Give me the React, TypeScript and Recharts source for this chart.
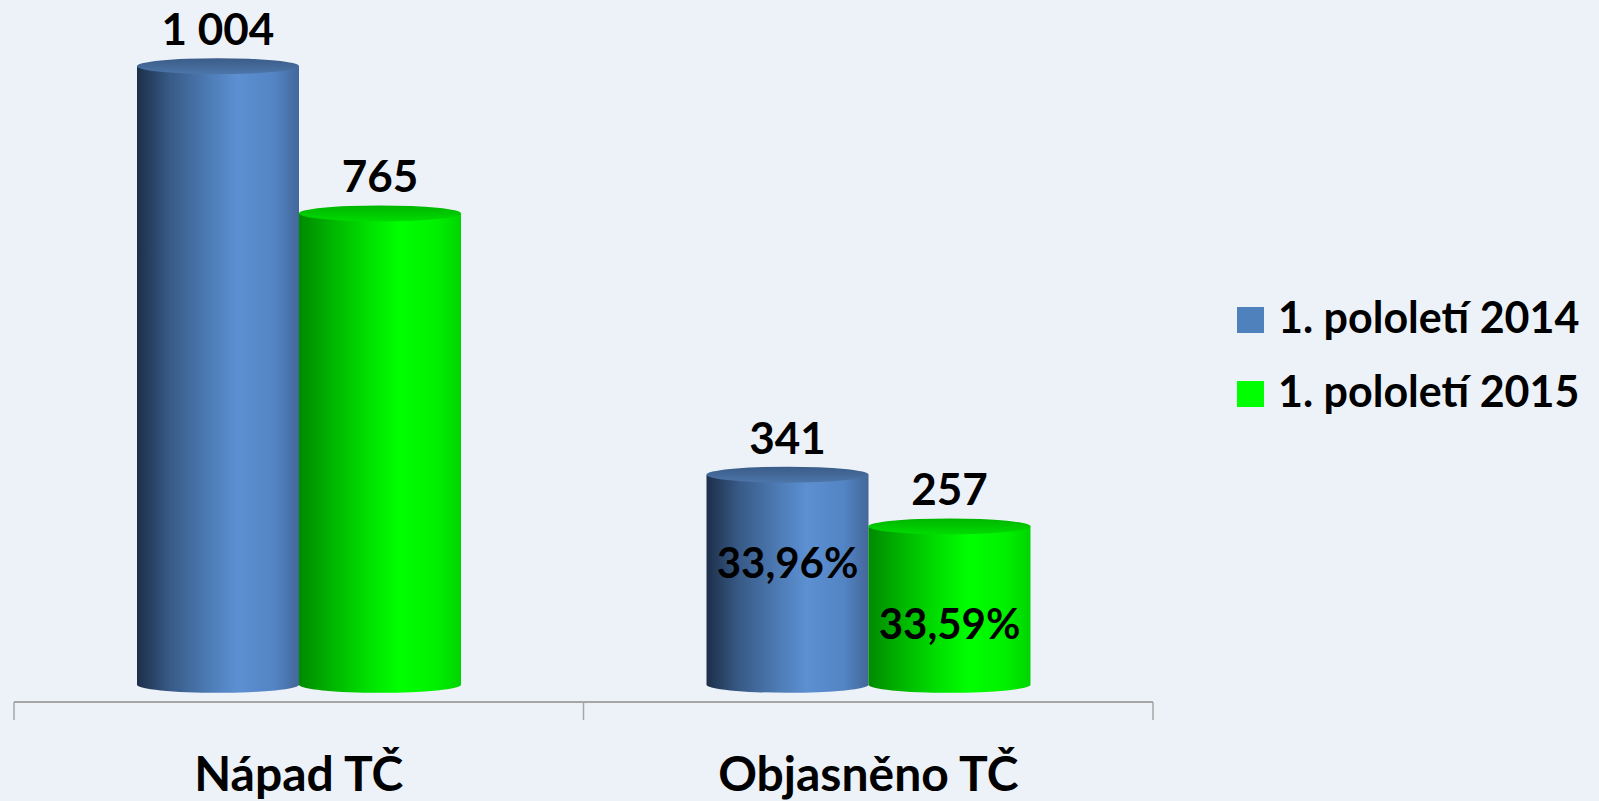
import React from "react";
import { Bar, BarChart, LabelList, Legend, XAxis, YAxis } from "recharts";

const categories = ["Nápad TČ", "Objasněno TČ"];
const values2014 = [1004, 341];
const values2015 = [765, 257];
const share2014 = [null, "33,96%"];
const share2015 = [null, "33,59%"];
const seriesNames = ["1. pololetí 2014", "1. pololetí 2015"];
const seriesColors = ["#4f81bd", "#00ff00"];
// category borders on the bottom axis, as a fraction of the plot width
const borderTicks = [0, 0.5, 1];

const data = categories.map((name, i) => ({
  name,
  h2014: values2014[i],
  h2015: values2015[i],
  p2014: share2014[i],
  p2015: share2015[i],
}));

const FONT = "Lato, 'Open Sans', sans-serif";

const palettes: Record<string, any> = {
  blue: {
    body: [
      ["0%", "#1d2f4a"],
      ["20%", "#375a86"],
      ["45%", "#4e7cb6"],
      ["62%", "#5c90d2"],
      ["85%", "#5384c4"],
      ["100%", "#43679a"],
    ],
    top: ["#3a5c88", "#4d76a9"],
  },
  green: {
    body: [
      ["0%", "#008a00"],
      ["22%", "#00b800"],
      ["45%", "#00e400"],
      ["62%", "#00ff00"],
      ["85%", "#00f000"],
      ["100%", "#00d400"],
    ],
    top: ["#00b400", "#00dc00"],
  },
};

const fmt = (v: number) => String(v).replace(/\B(?=(\d{3})+(?!\d))/g, " ");

function cylinder(key: string) {
  const pal = palettes[key];
  return (props: any) => {
    const { x, y, width, height, index } = props;
    if (!width || height == null) return null;
    const id = `cyl-${key}-${index}`;
    const rx = width / 2;
    const ry = 8;
    const bottom = y + height;
    return (
      <g>
        <defs>
          <linearGradient id={id} x1="0" y1="0" x2="1" y2="0">
            {pal.body.map(([o, c]: string[]) => (
              <stop key={o} offset={o} stopColor={c} />
            ))}
          </linearGradient>
          <linearGradient id={`${id}-top`} x1="0" y1="0" x2="0" y2="1">
            <stop offset="0%" stopColor={pal.top[0]} />
            <stop offset="100%" stopColor={pal.top[1]} />
          </linearGradient>
        </defs>
        <path
          d={`M${x},${y} L${x},${bottom} A${rx},${ry} 0 0 0 ${x + width},${bottom} L${x + width},${y} Z`}
          fill={`url(#${id})`}
        />
        <ellipse cx={x + rx} cy={y} rx={rx} ry={ry} fill={`url(#${id}-top)`} />
      </g>
    );
  };
}

function valueLabel(props: any) {
  const { x, y, width, value } = props;
  return (
    <text x={x + width / 2} y={y - 21} textAnchor="middle" fontFamily={FONT} fontSize={44} fontWeight={700} fill="#000">
      {fmt(value)}
    </text>
  );
}

function shareLabel(shift: number) {
  return (props: any) => {
    const { x, y, width, height, value } = props;
    if (!value) return null;
    return (
      <text
        x={x + width / 2}
        y={y + height / 2 + shift}
        textAnchor="middle"
        dominantBaseline="central"
        fontFamily={FONT}
        fontSize={42}
        fontWeight={700}
        fill="#000"
      >
        {value}
      </text>
    );
  };
}

function CategoryTick(props: any) {
  const { x, y, payload } = props;
  return (
    <text x={x} y={y + 69} textAnchor="middle" fontFamily={FONT} fontSize={48} fontWeight={700} fill="#000">
      {payload.value}
    </text>
  );
}

function LegendBox() {
  return (
    <svg width={362} height={130} overflow="visible">
      {seriesNames.map((n, i) => (
        <g key={n}>
          <rect x={0} y={11 + i * 74} width={27} height={26} fill={seriesColors[i]} />
          <text x={41} y={37 + i * 74} fontFamily={FONT} fontSize={43} fontWeight={700} fill="#000">
            {n}
          </text>
        </g>
      ))}
    </svg>
  );
}

export default function App() {
  return (
    <div style={{ position: "fixed", left: 0, top: 0, width: 1599, height: 801, background: "#edf2f8" }}>
      <BarChart
        width={1599}
        height={801}
        data={data}
        margin={{ top: 7, right: 446, bottom: 0, left: 14 }}
        barGap={0}
        barSize={162}
      >
        <XAxis
          xAxisId="a-grid"
          type="number"
          domain={[0, 1]}
          ticks={borderTicks}
          interval={0}
          height={20}
          tick={() => <g />}
          tickSize={18}
          axisLine={{ stroke: "#a6a6a6", strokeWidth: 2 }}
          tickLine={{ stroke: "#a6a6a6", strokeWidth: 1.5 }}
        />
        <XAxis
          xAxisId="b-cat"
          dataKey="name"
          height={79}
          axisLine={false}
          tickLine={false}
          tickSize={0}
          tickMargin={0}
          tick={<CategoryTick />}
        />
        <YAxis hide domain={[-28, 1100]} />
        <Legend
          layout="vertical"
          align="center"
          verticalAlign="middle"
          wrapperStyle={{ position: "absolute", left: 1237, top: 296, width: 362, height: 130 }}
          content={() => <LegendBox />}
        />
        <Bar
          xAxisId="b-cat"
          dataKey="h2014"
          name={seriesNames[0]}
          fill={seriesColors[0]}
          shape={cylinder("blue")}
          isAnimationActive={false}
        >
          <LabelList dataKey="h2014" content={valueLabel} />
          <LabelList dataKey="p2014" content={shareLabel(-18)} />
        </Bar>
        <Bar
          xAxisId="b-cat"
          dataKey="h2015"
          name={seriesNames[1]}
          fill={seriesColors[1]}
          shape={cylinder("green")}
          isAnimationActive={false}
        >
          <LabelList dataKey="h2015" content={valueLabel} />
          <LabelList dataKey="p2015" content={shareLabel(17)} />
        </Bar>
      </BarChart>
    </div>
  );
}
